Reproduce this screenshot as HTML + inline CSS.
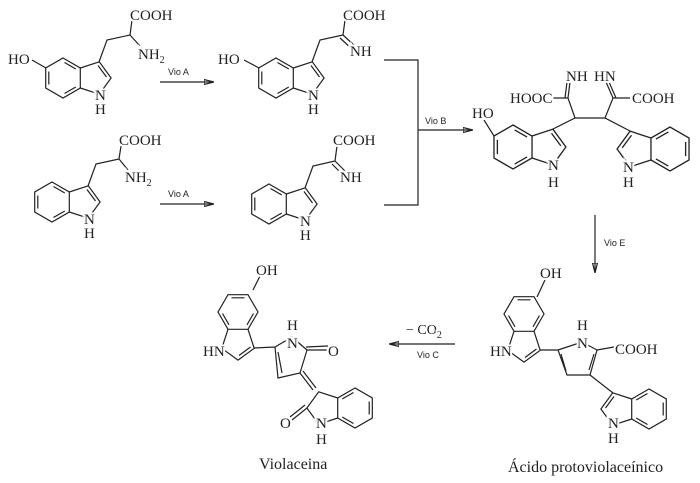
<!DOCTYPE html>
<html><head><meta charset="utf-8"><style>
html,body{margin:0;padding:0;background:#fff}
svg{display:block}
text{font-family:"Liberation Serif",serif;font-size:15px;fill:#222;stroke:#fff;stroke-width:4px;paint-order:stroke;}
.s{font-family:"Liberation Sans",sans-serif;font-size:9px;stroke-width:2px}
.c{font-size:16px;stroke:none}
line,path,polyline{stroke:#222;stroke-width:1.2;fill:none}
</style></head><body>
<svg width="700" height="483" viewBox="0 0 700 483" xmlns="http://www.w3.org/2000/svg">
<defs>
<g id="ind">
<path d="M0,-20 L17.3,-10 L17.3,10 L0,20 L-17.3,10 L-17.3,-10 Z"/>
<path d="M17.3,10 L36.3,16.2 L48.1,0 L36.3,-16.2 L17.3,-10"/>
<path d="M1.5,-15.5 L12.8,-9 M12.8,9 L1.5,15.5 M-14.2,-6.5 L-14.2,6.5 M43.5,-1 L35,-12.5"/>
</g>
<marker id="ah" markerWidth="10" markerHeight="6" refX="9" refY="3" orient="auto" markerUnits="userSpaceOnUse"><path d="M0,0.5 L10,3 L0,5.5 Z" fill="#222" stroke="none"/></marker>
</defs>

<!-- Mol1 -->
<use href="#ind" transform="translate(63,78)"/>
<path d="M99,62 L107,40 L130,35 L132,20 M130,35 L140,46 M32,60 L46,68"/>
<text x="8" y="64">HO</text>
<text x="130" y="20">COOH</text>
<text x="138" y="59">NH<tspan font-size="10" dy="4">2</tspan></text>
<text x="95" y="100">N</text><text x="95" y="114">H</text>

<!-- arrows Vio A -->
<line x1="160" y1="82" x2="213" y2="82" marker-end="url(#ah)"/>
<text class="s" x="168" y="75">Vio A</text>
<line x1="160" y1="204" x2="213" y2="204" marker-end="url(#ah)"/>
<text class="s" x="168" y="197">Vio A</text>

<!-- Mol2 -->
<use href="#ind" transform="translate(276,78)"/>
<path d="M312,62 L320,40 L343,35 L345,20 M343,35 L355,46 M340,38 L352,49 M244,60 L259,68"/>
<text x="218" y="64">HO</text>
<text x="343" y="20">COOH</text>
<text x="350" y="56">NH</text>
<text x="308" y="100">N</text><text x="308" y="114">H</text>

<!-- Mol3 -->
<use href="#ind" transform="translate(52,202)"/>
<path d="M88,186 L96,164 L119,159 L121,146 M119,159 L128,170"/>
<text x="119" y="145">COOH</text>
<text x="125" y="182">NH<tspan font-size="10" dy="4">2</tspan></text>
<text x="84" y="224">N</text><text x="84" y="238">H</text>

<!-- Mol4 -->
<use href="#ind" transform="translate(269,204)"/>
<path d="M305,188 L313,166 L335,161 L337,146 M335,161 L346,172 M332,164 L343,175"/>
<text x="333" y="145">COOH</text>
<text x="340" y="182">NH</text>
<text x="300" y="226">N</text><text x="300" y="240">H</text>

<!-- bracket + Vio B -->
<polyline points="384,60 418,60 418,205 384,205"/>
<line x1="418" y1="130" x2="472" y2="130" marker-end="url(#ah)"/>
<text class="s" x="425" y="124">Vio B</text>

<!-- Mol5 -->
<use href="#ind" transform="translate(513,147) scale(1.1)"/>
<use href="#ind" transform="translate(670,149) scale(-1.1,1.1)"/>
<path d="M553,129 L575,118 L605,118 L630,131 M575,118 L568,98 L553,98 M568,98 L570,82 M565,98 L567,82 M605,118 L613,98 L630,98 M613,98 L606,82 M616,98 L609,82 M484,120 L494,136"/>
<text x="472" y="118">HO</text>
<text x="510" y="103">HOOC</text>
<text x="632" y="103">COOH</text>
<text x="566" y="81">NH</text>
<text x="594" y="81">HN</text>
<text x="548" y="170">N</text><text x="548" y="187">H</text>
<text x="623" y="172">N</text><text x="623" y="187">H</text>

<!-- Vio E -->
<line x1="595" y1="215" x2="595" y2="272" marker-end="url(#ah)"/>
<text class="s" x="604" y="246">Vio E</text>

<!-- Mol6 -->
<use href="#ind" transform="translate(524,314) rotate(90)"/>
<use href="#ind" transform="translate(649,409) scale(-1,1)"/>
<path d="M558,350 L582,342 L597,350 L590,375 L567,375 Z M540,350 L558,350 M561,354 L566,371 M594,354 L589,370 M597,350 L614,347 M590,375 L613,393 M537,297 L545,280"/>
<text x="540" y="278">OH</text>
<text x="490" y="356">HN</text>
<text x="577" y="330">H</text><text x="577" y="348">N</text>
<text x="615" y="354">COOH</text>
<text x="608" y="428">N</text><text x="608" y="443">H</text>
<text class="c" x="508" y="472">Ácido protoviolaceínico</text>

<!-- Vio C -->
<line x1="455" y1="344" x2="390" y2="344" marker-end="url(#ah)"/>
<text x="406" y="334" style="font-size:14px">− CO<tspan font-size="10" dy="4">2</tspan></text>
<text class="s" x="417" y="358">Vio C</text>

<!-- Mol7 Violaceina -->
<use href="#ind" transform="translate(238,312) rotate(90)"/>
<path d="M275,347 L292,337 L307,350 L300,373 L278,378 Z M254,348 L275,347 M278,352 L282,373 M307,350 L328,350 M306,347 L328,346 M300,373 L313,390 M303,371 L316,388"/>
<g transform="translate(355,408) scale(-1,1)">
<path d="M0,-20 L17.3,-10 L17.3,10 L0,20 L-17.3,10 L-17.3,-10 Z"/>
<path d="M17.3,10 L36.3,16.2 L48.1,0 L36.3,-16.2 L17.3,-10"/>
<path d="M1.5,-15.5 L12.8,-9 M12.8,9 L1.5,15.5 M-14.2,-6.5 L-14.2,6.5"/>
</g>
<path d="M307,408 L292,420 M305,405 L290,417 M253,290 L260,276"/>
<text x="256" y="275">OH</text>
<text x="203" y="356">HN</text>
<text x="287" y="330">H</text><text x="287" y="348">N</text>
<text x="328" y="356">O</text>
<text x="280" y="428">O</text>
<text x="316" y="428">N</text><text x="316" y="444">H</text>
<text class="c" x="259" y="469">Violaceina</text>
</svg>
</body></html>
